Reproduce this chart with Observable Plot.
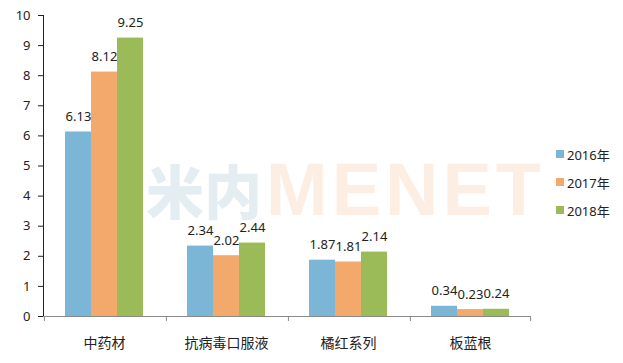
<!DOCTYPE html>
<html>
<head>
<meta charset="utf-8">
<script src="https://cdn.jsdelivr.net/npm/d3@7"></script>
<script src="https://cdn.jsdelivr.net/npm/@observablehq/plot@0.6"></script>
<style>
  html, body { margin: 0; padding: 0; background: #fff; }
  #wrap { position: relative; width: 623px; height: 363px; overflow: hidden; font-family: "Noto Sans", "Noto Sans CJK SC", sans-serif; }
  #chart svg { display: block; }
  g[aria-label="fx-axis tick label"], g[aria-label="fx-axis"] { font-size: 14px; }
  g[aria-label="y-axis tick"], g[aria-label="y-axis line"] { stroke: #8a8a8a; }
  #legend { position: absolute; left: 556px; top: 140px; font-size: 13px; color: #222; }
  #legend .item { display: flex; align-items: center; height: 28px; }
  #legend .sw { width: 8px; height: 8px; margin-right: 3px; }
  .wm { position: absolute; pointer-events: none; white-space: nowrap; }
  #wm-cn { left: 146px; top: 160px; font-family: "Noto Sans CJK SC", sans-serif; font-weight: 900; font-size: 58px; line-height: 1; height: 58px; color: #e4eef2; }
  #wm-en { left: 266px; top: 160px; font-family: "Liberation Sans", Arial, sans-serif; font-weight: bold; font-size: 74px; line-height: 0.8; height: 59px; letter-spacing: 4px; color: #fdeee3; }
</style>
</head>
<body>
<div id="wrap">
  <div id="chart"></div>
  <div class="wm" id="wm-cn">米内</div>
  <div class="wm" id="wm-en">MENET</div>
  <div id="legend"></div>
</div>
<script>
const categories = ["中药材", "抗病毒口服液", "橘红系列", "板蓝根"];
const series = ["2016年", "2017年", "2018年"];
const v2016 = [6.13, 2.34, 1.87, 0.34];
const v2017 = [8.12, 2.02, 1.81, 0.23];
const v2018 = [9.25, 2.44, 2.14, 0.24];
const yTicks = [0, 1, 2, 3, 4, 5, 6, 7, 8, 9, 10];
const colors = ["#7bb6d6", "#f3a96b", "#9bbb59"];

const values = [v2016, v2017, v2018];
const data = categories.flatMap((c, i) => series.map((s, j) => ({category: c, series: s, value: values[j][i]})));

const W = 623, H = 363, ML = 42, MR = 92, MT = 15, MB = 47;
const outer = 0.76;
const facetW = (W - ML - MR) / categories.length;
const step = facetW / (series.length + 2 * outer);
const edge = (0.5 + outer) * step;

const chart = Plot.plot({
  width: W, height: H,
  marginLeft: ML, marginRight: MR, marginTop: MT, marginBottom: MB,
  style: {fontFamily: '"Noto Sans", "Noto Sans CJK SC", sans-serif', fontSize: "13px", color: "#222", background: "white"},
  fx: {domain: categories, padding: 0, label: null, tickSize: 0, tickPadding: 22},
  x: {domain: series, paddingInner: 0, paddingOuter: outer, axis: null},
  y: {domain: [0, 10], ticks: yTicks, tickSize: 5, tickPadding: 8, line: true, label: null},
  color: {domain: series, range: colors},
  marks: [
    Plot.barY(data, {fx: "category", x: "series", y: "value", fill: "series"}),
    Plot.text(data, {fx: "category", x: "series", y: "value", text: d => d.value.toFixed(2), dy: -15, fill: "#222"}),
    Plot.ruleY([0], {stroke: "#8a8a8a"}),
    Plot.ruleX(categories, {fx: d => d, x: () => series[0], y1: () => 0, y2: () => 0, dx: -edge, insetBottom: -5, stroke: "#8a8a8a"}),
    Plot.ruleX(categories.slice(-1), {fx: d => d, x: () => series[series.length - 1], y1: () => 0, y2: () => 0, dx: edge, insetBottom: -5, stroke: "#8a8a8a"})
  ]
});
document.getElementById("chart").appendChild(chart);

const legend = document.getElementById("legend");
series.forEach((s, i) => {
  const item = document.createElement("div");
  item.className = "item";
  const sw = document.createElement("span");
  sw.className = "sw";
  sw.style.background = colors[i];
  const t = document.createElement("span");
  t.textContent = s;
  item.appendChild(sw);
  item.appendChild(t);
  legend.appendChild(item);
});
</script>
</body>
</html>
